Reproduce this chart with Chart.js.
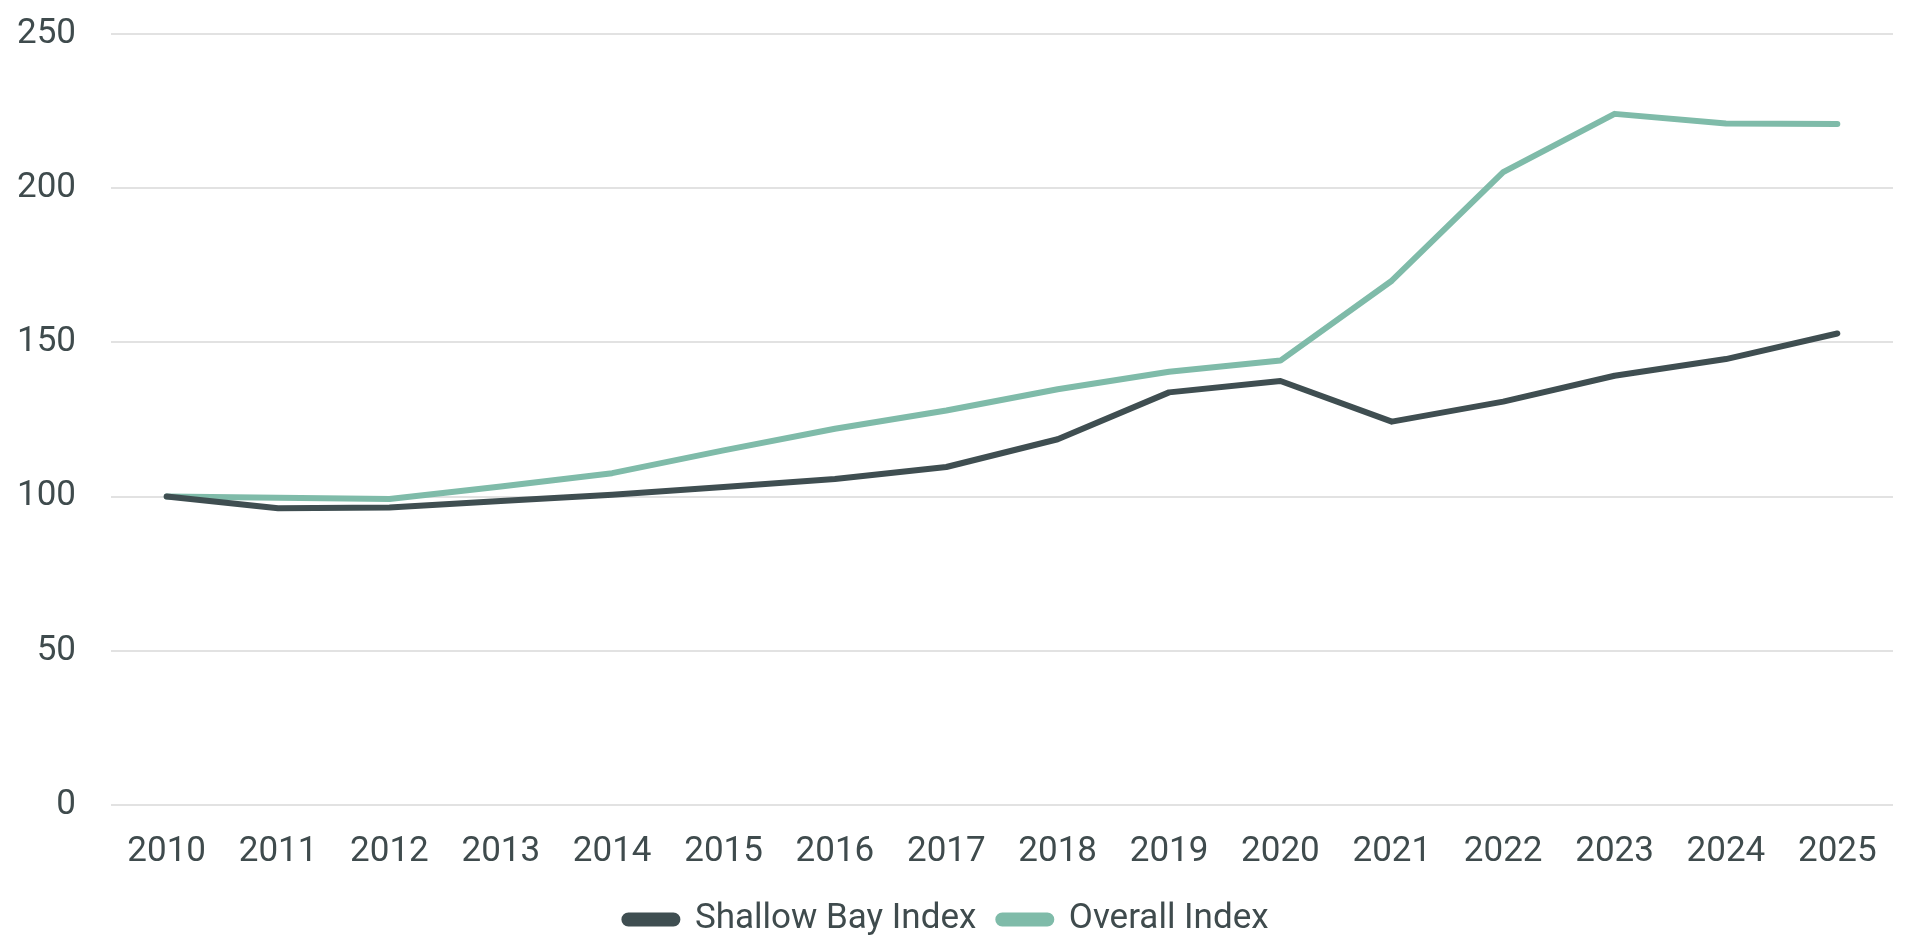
<!DOCTYPE html>
<html>
<head>
<meta charset="utf-8">
<script src="https://cdn.jsdelivr.net/npm/chart.js@4"></script>
<style>
  html, body { margin: 0; padding: 0; background: #fff; }
  #wrap { width: 1920px; height: 943px; position: relative; }
</style>
</head>
<body>
<div id="wrap"><canvas id="indexChart"></canvas></div>
<script>
// Years on the x axis
const years = ['2010', '2011', '2012', '2013', '2014', '2015', '2016', '2017',
               '2018', '2019', '2020', '2021', '2022', '2023', '2024', '2025'];

// Index values (2010 = 100)
const shallowBay = [100, 96.2, 96.5, 98.6, 100.6, 103.1, 105.7, 109.6,
                    118.6, 133.8, 137.5, 124.3, 130.8, 139.2, 144.6, 152.9];
const overall = [100, 99.6, 99.2, 103.3, 107.6, 115.0, 122.0, 127.9,
                 134.8, 140.5, 144.1, 170.0, 205.2, 224.1, 221.0, 220.8];

const yTicks = [0, 50, 100, 150, 200, 250];

const darkColor = '#3f4e51';
const tealColor = '#7fbba9';
const textColor = '#3f4b4d';

Chart.defaults.font.family = 'Roboto, "Open Sans", sans-serif';
Chart.defaults.font.size = 35;
Chart.defaults.color = textColor;

var ctx = document.getElementById('indexChart').getContext('2d');
var indexChart = new Chart(ctx, {
    type: 'line',
    data: {
        labels: years,
        datasets: [{
            label: 'Shallow Bay Index',
            data: shallowBay,
            borderColor: darkColor,
            backgroundColor: darkColor,
            borderWidth: 6,
            pointRadius: 0,
            borderJoinStyle: 'round',
            borderCapStyle: 'round',
            tension: 0
        }, {
            label: 'Overall Index',
            data: overall,
            borderColor: tealColor,
            backgroundColor: tealColor,
            borderWidth: 6,
            pointRadius: 0,
            borderJoinStyle: 'round',
            borderCapStyle: 'round',
            tension: 0
        }]
    },
    options: {
        responsive: true,
        maintainAspectRatio: false,
        animation: false,
        layout: {
            padding: { top: 34, right: 27, left: 0, bottom: -4 }
        },
        scales: {
            x: {
                offset: true,
                grid: { display: false, drawTicks: false },
                border: { display: false },
                ticks: { padding: 26, maxRotation: 0 },
                afterFit: (axis) => { axis.height = 75; }
            },
            y: {
                min: 0,
                max: 250,
                afterBuildTicks: (axis) => { axis.ticks = yTicks.map(v => ({ value: v })); },
                grid: { color: '#e2e2e2', lineWidth: 2, drawTicks: false },
                border: { display: false },
                ticks: { padding: 35 },
                afterFit: (axis) => {
                    axis.width = 111;
                    axis.paddingTop = 0;
                    axis.paddingBottom = 0;
                }
            }
        },
        plugins: {
            tooltip: { enabled: false },
            legend: {
                position: 'bottom',
                labels: {
                    boxWidth: 53,
                    boxHeight: 8,
                    useBorderRadius: true,
                    borderRadius: 4,
                    padding: 22
                }
            }
        }
    }
});
</script>
</body>
</html>
